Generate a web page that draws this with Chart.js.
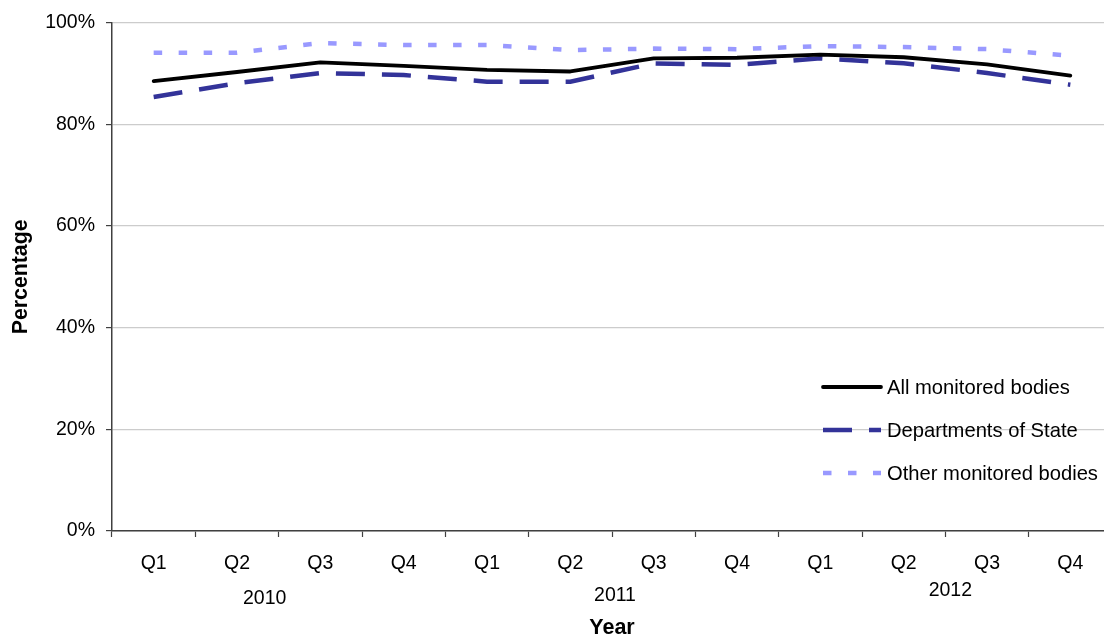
<!DOCTYPE html>
<html>
<head>
<meta charset="utf-8">
<script src="https://cdn.jsdelivr.net/npm/chart.js@4/dist/chart.umd.min.js"></script>
<style>
  html, body { margin: 0; padding: 0; background: #fff; overflow: hidden; }
  #wrap { position: absolute; left: 0; top: 0; width: 1125px; height: 635px; }
</style>
</head>
<body>
<div id="wrap"><canvas id="c"></canvas></div>
<script>
// Quarterly percentages, 2010 to 2012
const quarters = ['Q1', 'Q2', 'Q3', 'Q4', 'Q1', 'Q2', 'Q3', 'Q4', 'Q1', 'Q2', 'Q3', 'Q4'];
const years = ['2010', '2011', '2012'];
const allMonitored = [88.5, 90.3, 92.2, 91.5, 90.7, 90.4, 93.0, 93.1, 93.7, 93.2, 91.8, 89.6];
const departments = [85.4, 88.1, 90.1, 89.7, 88.4, 88.4, 92.0, 91.7, 93.0, 92.0, 90.1, 87.8];
const otherBodies = [94.1, 94.1, 96.0, 95.6, 95.6, 94.6, 94.9, 94.8, 95.4, 95.2, 94.8, 93.5];
const yTicks = [0, 20, 40, 60, 80, 100];

const FONT = "'Liberation Sans', Arial, sans-serif";
const TEXT = '#000000';
const AXIS = '#404040';
const GRID = '#cccccc';

// Year captions under each group of four quarters (small nudges for each caption)
const yearNudge = [[-14, 599], [3, 596], [5, 591]];
const yearLabels = {
  id: 'yearLabels',
  afterDraw(chart) {
    const x = chart.scales.x;
    const ctx = chart.ctx;
    ctx.save();
    ctx.font = '19.5px ' + FONT;
    ctx.fillStyle = TEXT;
    ctx.textAlign = 'center';
    ctx.textBaseline = 'middle';
    years.forEach((yr, i) => {
      const a = x.getPixelForValue(i * 4);
      const b = x.getPixelForValue(i * 4 + 3);
      ctx.fillText(yr, (a + b) / 2 + yearNudge[i][0], yearNudge[i][1]);
    });
    ctx.restore();
  }
};

// Legend drawn inside the plot, lower right
const innerLegend = {
  id: 'innerLegend',
  afterDraw(chart) {
    const ctx = chart.ctx;
    const area = chart.chartArea;
    const x0 = area.right - 289;
    const rows = [area.bottom - 144, area.bottom - 101, area.bottom - 58];
    ctx.save();
    chart.data.datasets.forEach((ds, i) => {
      const y = rows[i];
      ctx.beginPath();
      ctx.strokeStyle = ds.borderColor;
      ctx.lineWidth = ds.borderWidth;
      ctx.setLineDash(ds.borderDash || []);
      ctx.lineCap = ds.borderCapStyle || 'butt';
      ctx.moveTo(x0, y);
      ctx.lineTo(x0 + 58, y);
      ctx.stroke();
      ctx.setLineDash([]);
      ctx.font = '20.2px ' + FONT;
      ctx.fillStyle = TEXT;
      ctx.textAlign = 'left';
      ctx.textBaseline = 'middle';
      ctx.fillText(ds.label, x0 + 64, y + 1);
    });
    ctx.restore();
  }
};

new Chart(document.getElementById('c'), {
  type: 'line',
  data: {
    labels: quarters,
    datasets: [
      {
        label: 'All monitored bodies',
        data: allMonitored,
        borderColor: '#000000',
        backgroundColor: '#000000',
        borderWidth: 3.8,
        pointRadius: 0,
        tension: 0,
        borderJoinStyle: 'round',
        borderCapStyle: 'round'
      },
      {
        label: 'Departments of State',
        data: departments,
        borderColor: '#333399',
        backgroundColor: '#333399',
        borderWidth: 4.5,
        borderDash: [29, 17],
        pointRadius: 0,
        tension: 0
      },
      {
        label: 'Other monitored bodies',
        data: otherBodies,
        borderColor: '#9999ff',
        backgroundColor: '#9999ff',
        borderWidth: 4.5,
        borderDash: [8.5, 16.5],
        pointRadius: 0,
        tension: 0
      }
    ]
  },
  options: {
    responsive: true,
    maintainAspectRatio: false,
    animation: false,
    events: [],
    layout: { padding: { top: 20, right: 13, bottom: 0, left: 0 } },
    plugins: {
      legend: { display: false },
      tooltip: { enabled: false }
    },
    scales: {
      x: {
        type: 'category',
        offset: true,
        border: { display: true, color: AXIS, width: 1.5 },
        grid: {
          display: true,
          offset: true,
          drawOnChartArea: false,
          drawTicks: true,
          tickLength: 6,
          tickColor: AXIS,
          tickWidth: 1.2
        },
        ticks: {
          color: TEXT,
          font: { family: FONT, size: 19.5 },
          padding: 15,
          maxRotation: 0,
          autoSkip: false
        },
        title: {
          display: true,
          text: 'Year',
          color: TEXT,
          font: { family: FONT, size: 21.5, weight: 'bold', lineHeight: 0.65 },
          padding: { top: 0, bottom: 0 }
        },
        afterFit(scale) { scale.height = 104; }
      },
      y: {
        min: 0,
        max: 100,
        border: { display: true, color: AXIS, width: 1.5 },
        grid: {
          color: GRID,
          lineWidth: 1.2,
          drawTicks: true,
          tickLength: 6,
          tickColor: AXIS,
          tickWidth: 1.2
        },
        afterBuildTicks(scale) { scale.ticks = yTicks.map(v => ({ value: v })); },
        ticks: {
          color: TEXT,
          font: { family: FONT, size: 19.5 },
          padding: 11,
          callback: v => v + '%'
        },
        title: {
          display: true,
          text: 'Percentage',
          color: TEXT,
          font: { family: FONT, size: 21.3, weight: 'bold', lineHeight: 1 },
          padding: { top: 10, bottom: 0 }
        },
        afterFit(scale) { scale.width = 112; }
      }
    }
  },
  plugins: [yearLabels, innerLegend]
});
</script>
</body>
</html>
